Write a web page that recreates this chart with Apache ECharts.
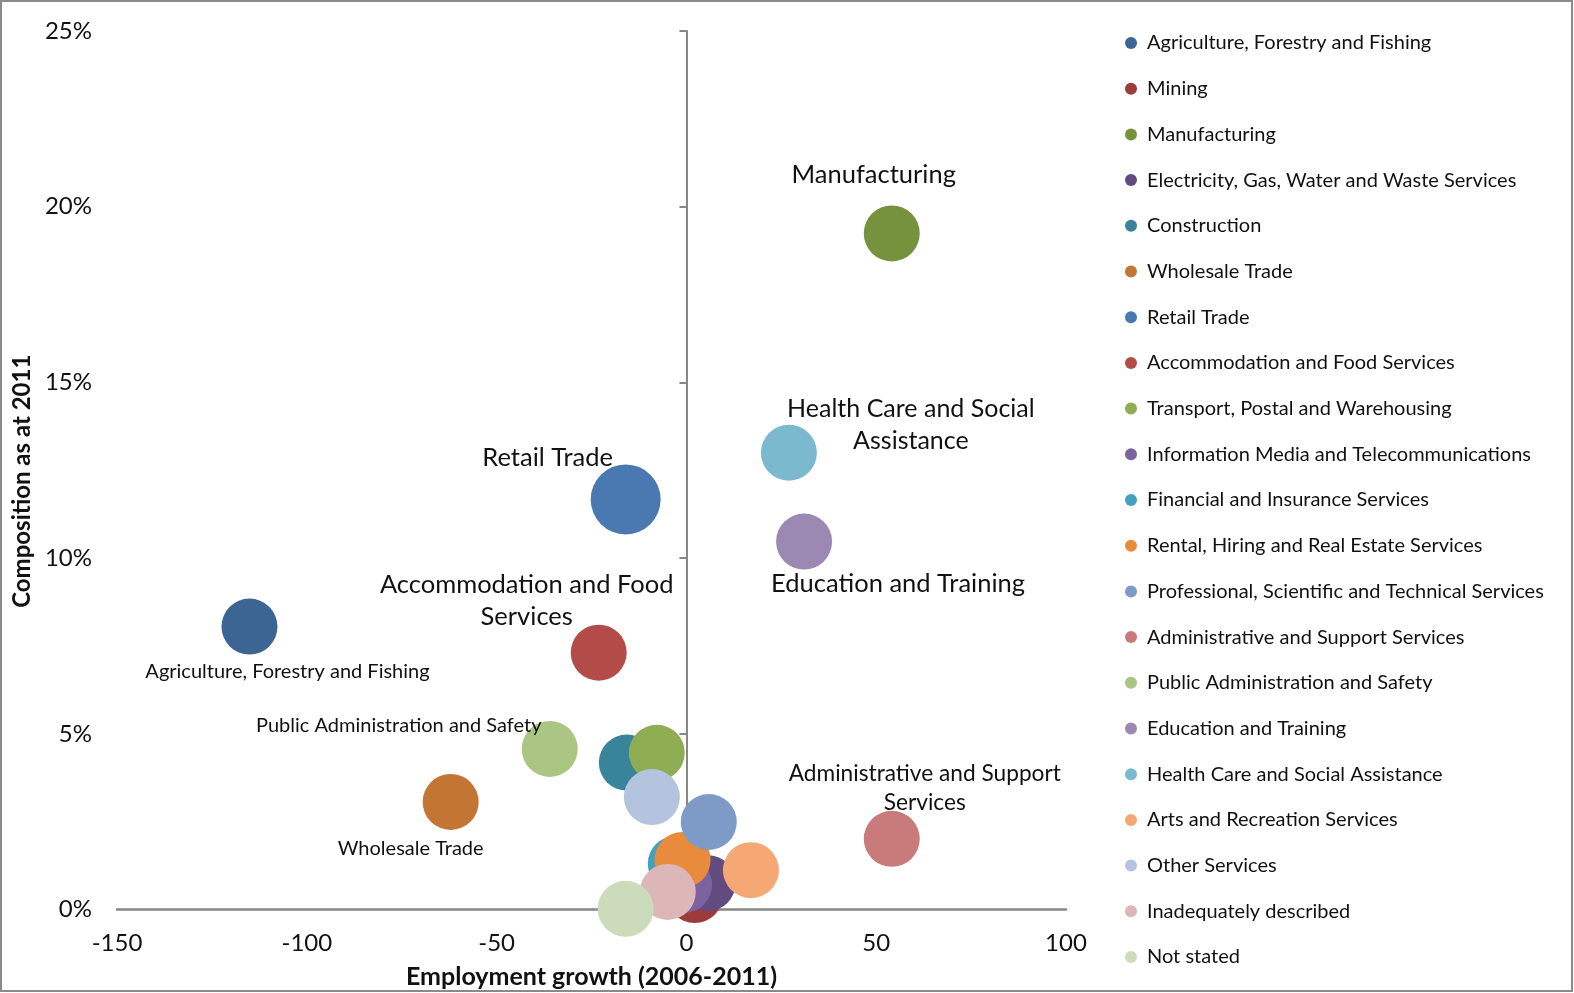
<!DOCTYPE html>
<html>
<head>
<meta charset="utf-8">
<script src="https://cdn.jsdelivr.net/npm/echarts@6/dist/echarts.min.js"></script>
<style>
  html, body { margin: 0; padding: 0; background: #fff; }
  #chart { width: 1574px; height: 993px; }
</style>
</head>
<body>
<div id="chart"></div>
<script>
// Industries, in legend and drawing order
const industries = [
  'Agriculture, Forestry and Fishing',
  'Mining',
  'Manufacturing',
  'Electricity, Gas, Water and Waste Services',
  'Construction',
  'Wholesale Trade',
  'Retail Trade',
  'Accommodation and Food Services',
  'Transport, Postal and Warehousing',
  'Information Media and Telecommunications',
  'Financial and Insurance Services',
  'Rental, Hiring and Real Estate Services',
  'Professional, Scientific and Technical Services',
  'Administrative and Support Services',
  'Public Administration and Safety',
  'Education and Training',
  'Health Care and Social Assistance',
  'Arts and Recreation Services',
  'Other Services',
  'Inadequately described',
  'Not stated'
];

// Employment growth 2006-2011 (x)
const growth = [-115.1, 2.2, 54.1, 5.6, -15.7, -62.1, -16.0, -23.1, -7.8, -0.6,
                -2.8, -1.0, 5.9, 54.1, -36.0, 31.0, 27.0, 17.0, -9.1, -4.9, -16.0];

// Share of employment as at 2011, percent (y)
const composition = [8.05, 0.41, 19.24, 0.75, 4.18, 3.06, 11.67, 7.31, 4.46, 0.7,
                     1.3, 1.41, 2.49, 2.01, 4.57, 10.47, 13.0, 1.12, 3.2, 0.5, 0.02];

// Relative bubble weight (area)
const bubbleWeight = [1, 1, 1, 1, 1, 1, 1.56, 1, 1, 1,
                      1, 1, 1, 1, 1, 1, 1, 1, 1, 1, 1];

// Axis ticks
const xTicks = { min: -150, max: 100, step: 50 };
const yTicks = { min: 0, max: 25, step: 5 };

const colors = [
  '#3C6593', '#9B3B3A', '#77923C', '#624C7F', '#38849A', '#C37533', '#4A78B0',
  '#B34B48', '#8FAE53', '#7B62A0', '#42A2BE', '#E88B3C', '#7E9BC8', '#C87B7A',
  '#ABC583', '#9C89B3', '#7BB9CF', '#F5A874', '#B4C3DE', '#DDB6B7', '#CCDBB9'
];

const FONT = 'Lato';
const BASE_SIZE = 56;
const BIG = 25.5;
const SMALL = 20;

// Callout text for labelled bubbles: wrapped text, offset from bubble centre, font size
const callouts = {
  'Manufacturing': { text: 'Manufacturing', dx: -18, dy: -59, size: BIG },
  'Health Care and Social Assistance': { text: 'Health Care and Social\nAssistance', dx: 122, dy: -28, size: 25, lh: 32 },
  'Retail Trade': { text: 'Retail Trade', dx: -78, dy: -42, size: BIG },
  'Accommodation and Food Services': { text: 'Accommodation and Food\nServices', dx: -72, dy: -52, size: BIG, lh: 32 },
  'Education and Training': { text: 'Education and Training', dx: 94, dy: 42, size: BIG },
  'Agriculture, Forestry and Fishing': { text: 'Agriculture, Forestry and Fishing', dx: 38, dy: 45, size: SMALL },
  'Public Administration and Safety': { text: 'Public Administration and Safety', dx: -151, dy: -23, size: SMALL },
  'Wholesale Trade': { text: 'Wholesale Trade', dx: -40, dy: 47, size: SMALL },
  'Administrative and Support Services': { text: 'Administrative and Support\nServices', dx: 33, dy: -51, size: 22.7, lh: 29 }
};

const series = industries.map((name, i) => {
  const c = callouts[name];
  return {
    name: name,
    type: 'scatter',
    clip: false,
    data: [[growth[i], composition[i], bubbleWeight[i]]],
    symbolSize: (v) => BASE_SIZE * Math.sqrt(v[2]),
    itemStyle: { color: colors[i], opacity: 1 },
    emphasis: { disabled: true },
    label: c ? {
      show: true,
      position: 'inside',
      offset: [c.dx, c.dy],
      formatter: () => c.text,
      fontFamily: FONT,
      fontSize: c.size,
      lineHeight: c.lh || c.size + 6,
      color: '#111',
      align: 'center'
    } : { show: false }
  };
});

const chart = echarts.init(document.getElementById('chart'), null, { renderer: 'canvas' });

chart.setOption({
  animation: false,
  backgroundColor: '#fff',
  textStyle: { fontFamily: FONT },
  graphic: [{
    type: 'rect',
    shape: { x: 1, y: 1, width: 1571, height: 990 },
    style: { fill: 'none', stroke: '#8a8a8a', lineWidth: 2 },
    z: -1
  }],
  grid: { left: 117, right: 508, top: 31, bottom: 83.5, containLabel: false, outerBoundsMode: 'none' },
  legend: {
    orient: 'vertical',
    left: 1120,
    top: 27,
    icon: 'circle',
    itemWidth: 22,
    itemHeight: 12,
    itemGap: 23.7,
    selectedMode: false,
    textStyle: { fontFamily: FONT, fontSize: 20, color: '#111', lineHeight: 22 },
    data: industries
  },
  xAxis: {
    type: 'value',
    min: xTicks.min, max: xTicks.max, interval: xTicks.step,
    name: 'Employment growth (2006-2011)',
    nameLocation: 'middle',
    nameGap: 55,
    nameTextStyle: { fontFamily: FONT, fontWeight: 'bold', fontSize: 25, color: '#111' },
    axisLine: { show: true, onZero: false, lineStyle: { color: '#878787', width: 2.5 } },
    axisTick: { show: false },
    axisLabel: { fontFamily: FONT, fontSize: 24, color: '#111', margin: 22 },
    splitLine: { show: false }
  },
  yAxis: [{
    type: 'value',
    min: yTicks.min, max: yTicks.max, interval: yTicks.step,
    position: 'left',
    name: 'Composition as at 2011',
    nameLocation: 'middle',
    nameRotate: 90,
    nameGap: 73,
    nameTextStyle: { fontFamily: FONT, fontWeight: 'bold', fontSize: 24, color: '#111', padding: [0, 22, 0, 0] },
    axisLine: { show: false, onZero: false },
    axisTick: { show: false },
    axisLabel: { fontFamily: FONT, fontSize: 24, color: '#111', margin: 25, formatter: '{value}%' },
    splitLine: { show: false }
  }, {
    type: 'value',
    min: yTicks.min, max: yTicks.max, interval: yTicks.step,
    position: 'left',
    axisLine: { show: true, onZero: true, lineStyle: { color: '#878787', width: 2 } },
    axisTick: { show: true, inside: false, length: 7, lineStyle: { color: '#878787', width: 2 } },
    axisLabel: { show: false },
    splitLine: { show: false }
  }],
  series: series
});
</script>
</body>
</html>
